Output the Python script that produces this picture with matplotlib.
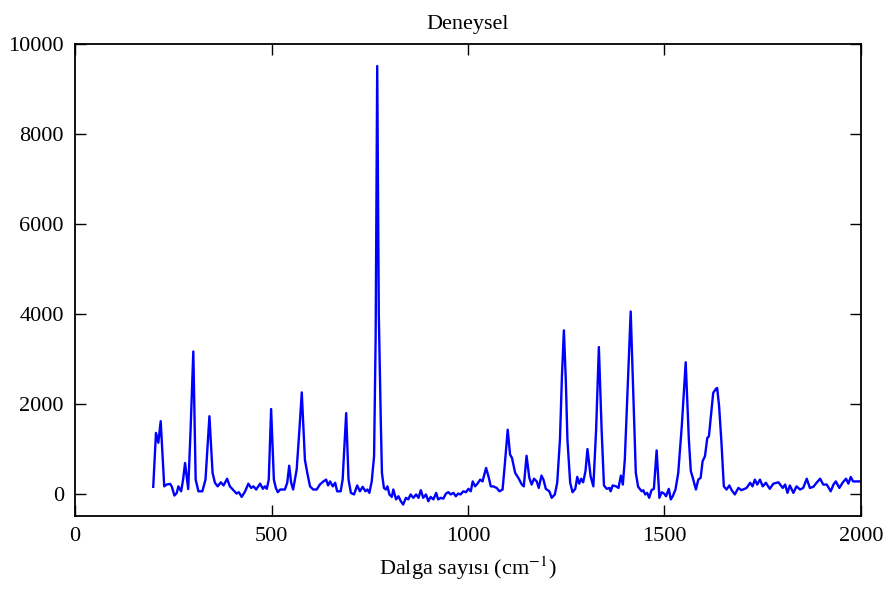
import matplotlib.pyplot as plt

# Deneysel Raman spektrumu
wavenumber = [
    199, 206, 212, 218, 227, 233, 242, 246, 253, 259, 263, 270, 275, 280, 285,
    288, 294, 301, 307, 314, 324, 332, 342, 350, 356, 363, 371, 378, 387, 394,
    403, 411, 417, 424, 433, 441, 448, 454, 461, 471, 478, 483, 488, 493, 499,
    506, 511, 516, 522, 534, 540, 545, 550, 555, 564, 571, 577, 585, 591, 598,
    606, 615, 623, 632, 639, 644, 649, 656, 662, 667, 676, 681, 690, 696, 702,
    710, 718, 725, 732, 739, 744, 749, 755, 761, 765, 769, 773, 778, 781, 786,
    791, 795, 800, 806, 810, 817, 823, 829, 835, 842, 848, 854, 861, 868, 874,
    880, 886, 893, 899, 905, 912, 919, 924, 931, 937, 944, 950, 956, 963, 969,
    975, 981, 988, 995, 1001, 1007, 1012, 1018, 1024, 1031, 1037, 1046, 1052,
    1058, 1064, 1073, 1080, 1088, 1094, 1101, 1107, 1112, 1120, 1128, 1137,
    1142, 1149, 1156, 1162, 1168, 1175, 1180, 1187, 1192, 1198, 1207, 1213,
    1221, 1227, 1234, 1239, 1244, 1249, 1253, 1260, 1266, 1273, 1278, 1283,
    1288, 1293, 1299, 1304, 1312, 1319, 1326, 1333, 1340, 1346, 1353, 1360,
    1363, 1368, 1377, 1383, 1389, 1394, 1399, 1405, 1414, 1421, 1427, 1433,
    1442, 1446, 1451, 1456, 1461, 1467, 1473, 1480, 1487, 1493, 1499, 1504,
    1511, 1516, 1521, 1528, 1535, 1544, 1554, 1562, 1567, 1572, 1580, 1586,
    1592, 1597, 1603, 1609, 1613, 1618, 1624, 1631, 1634, 1639, 1645, 1651,
    1658, 1665, 1671, 1679, 1688, 1696, 1709, 1718, 1724, 1730, 1736, 1743,
    1750, 1758, 1768, 1777, 1790, 1801, 1807, 1813, 1819, 1828, 1836, 1845,
    1853, 1862, 1870, 1879, 1887, 1896, 1904, 1913, 1923, 1930, 1936, 1945,
    1954, 1962, 1968, 1974, 1980, 1993, 2000,
]
intensity = [
    150, 1350, 1130, 1610, 160, 200, 215, 160, -45, 15, 160, 50, 310, 680, 310,
    100, 1400, 3160, 310, 50, 50, 310, 1720, 460, 240, 160, 250, 180, 330, 160,
    75, 0, 30, -75, 50, 220, 125, 160, 90, 220, 105, 160, 105, 310, 1880,
    310, 125, 30, 90, 90, 240, 620, 240, 90, 530, 1420, 2250, 750, 460, 160,
    90, 90, 200, 270, 310, 180, 270, 160, 240, 50, 50, 310, 1790, 310, 15,
    -20, 180, 50, 150, 50, 90, 15, 270, 830, 3500, 9510, 4000, 1640, 460, 125,
    90, 160, -20, -75, 90, -130, -60, -170, -245, -95, -130, -20, -95, -20, -95,
    75, -95, -20, -170, -75, -130, 15, -130, -95, -115, 0, 30, -20, 15, -60,
    0, -20, 50, 30, 105, 50, 270, 160, 220, 310, 270, 570, 385,
    160, 160, 125, 50, 90, 680, 1420, 870, 790, 460, 350, 200,
    160, 840, 350, 200, 330, 270, 125, 400, 310, 105, 50, -95,
    -20, 240, 1200, 2600, 3630, 2500, 1200, 240, 30, 105, 370, 220,
    330, 250, 500, 990, 385, 160, 1420, 3260, 1420, 180, 105, 125,
    50, 180, 160, 125, 400, 200, 750, 2090, 4050, 2090, 460, 150,
    50, 75, -20, 15, -95, 75, 105, 960, -95, 30, 0, -60,
    105, -130, -60, 90, 460, 1500, 2920, 1200, 500, 350, 90, 310,
    350, 720, 830, 1240, 1270, 1720, 2240, 2330, 2350, 1940, 1130, 160,
    90, 180, 75, -20, 125, 75, 125, 240, 160, 310, 200, 310,
    160, 240, 105, 220, 250, 125, 200, 15, 180, 15, 160, 90,
    125, 330, 125, 150, 240, 330, 200, 200, 50, 200, 270, 125,
    250, 330, 220, 370, 270, 270, 270,
]

x_ticks = [0, 500, 1000, 1500, 2000]
y_ticks = [0, 2000, 4000, 6000, 8000, 10000]

plt.rcParams['font.family'] = ['Liberation Serif', 'DejaVu Serif']
plt.rcParams['mathtext.fontset'] = 'stix'

fig = plt.figure(figsize=(8.91, 5.93), dpi=100)
ax = fig.add_axes([0.0842, 0.1298, 0.8821, 0.7960])

ax.plot(wavenumber, intensity, color='#0000ff', linewidth=1.7)

ax.set_xlim(0, 2000)
ax.set_ylim(-500, 10000)
ax.set_xticks(x_ticks)
ax.set_yticks(y_ticks)

ax.tick_params(direction='in', length=8, width=1.0, labelsize=16,
               top=True, right=True, pad=8)
ax.tick_params(axis='y', pad=8)
for s in ax.spines.values():
    s.set_linewidth(1.3)

ax.set_title('Deneysel', fontsize=16, pad=11)
ax.set_xlabel('Dalga sayısı (cm$^{-1}$)', fontsize=16, labelpad=6)

fig.savefig('out.png', dpi=100)
